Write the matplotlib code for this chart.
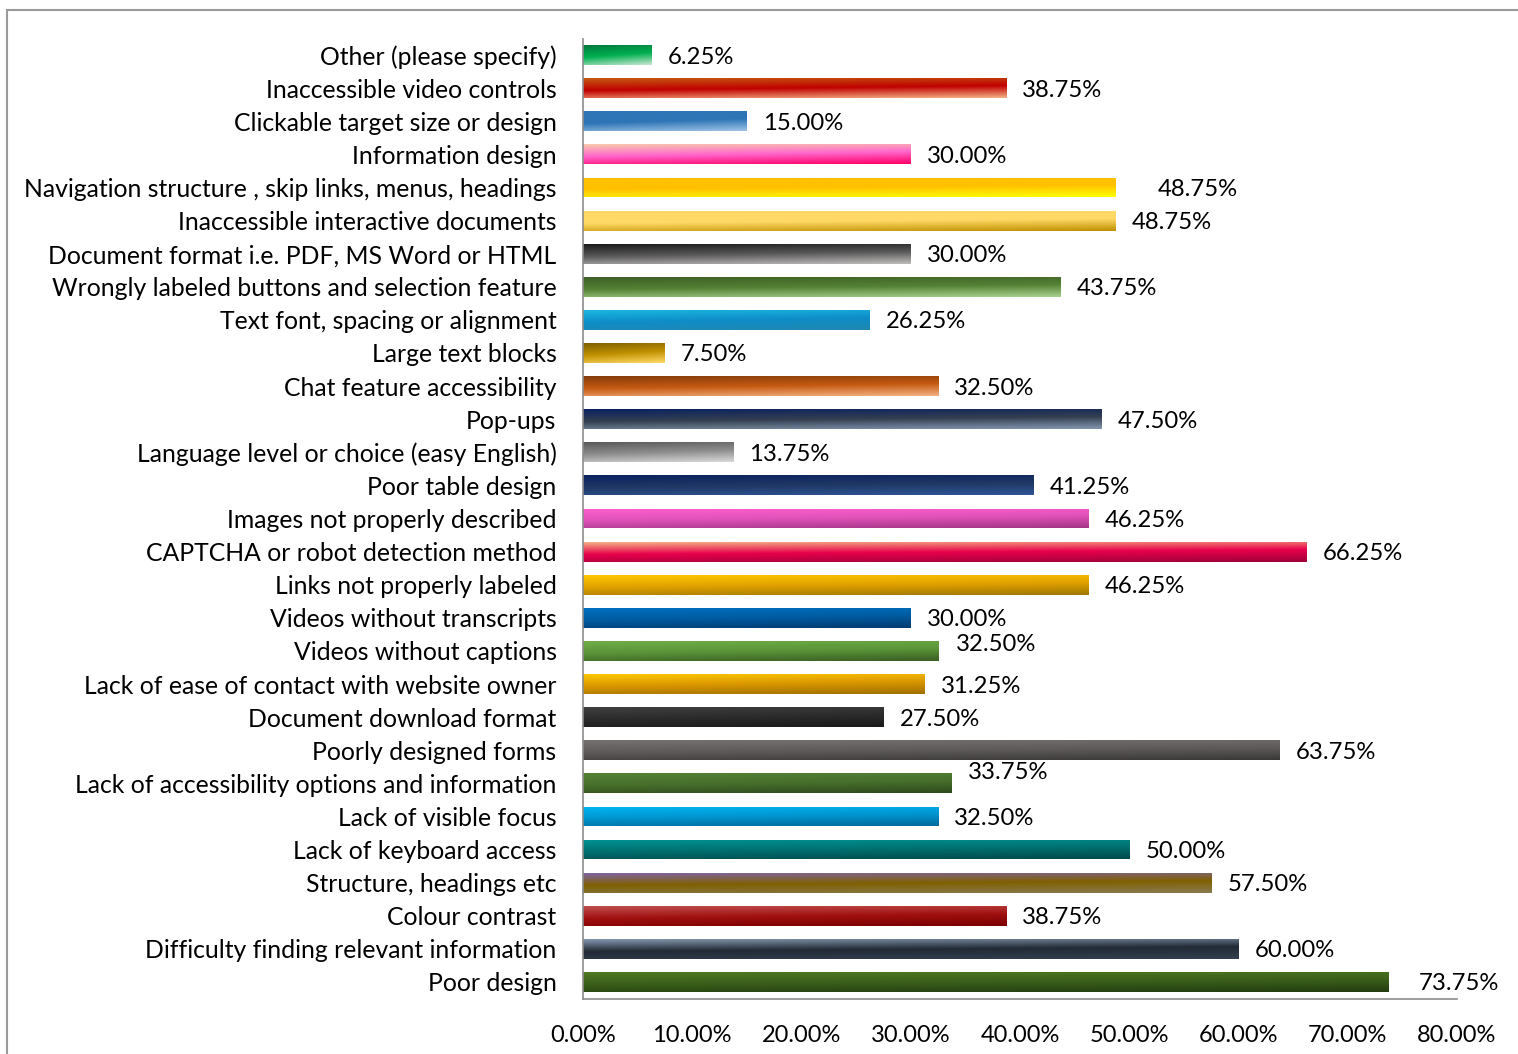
import numpy as np
import matplotlib
matplotlib.use("Agg")
import matplotlib.pyplot as plt
from matplotlib.colors import LinearSegmentedColormap
from matplotlib.patches import Rectangle
from matplotlib.ticker import MultipleLocator, FuncFormatter

plt.rcParams['font.family'] = ['Lato', 'DejaVu Sans']

# Accessibility issues reported, top to bottom as listed
categories = [
    "Other (please specify)",
    "Inaccessible video controls",
    "Clickable target size or design",
    "Information design",
    "Navigation structure , skip links, menus, headings",
    "Inaccessible interactive documents",
    "Document format i.e. PDF, MS Word or HTML",
    "Wrongly labeled buttons and selection feature",
    "Text font, spacing or alignment",
    "Large text blocks",
    "Chat feature accessibility",
    "Pop-ups",
    "Language level or choice (easy English)",
    "Poor table design",
    "Images not properly described",
    "CAPTCHA or robot detection method",
    "Links not properly labeled",
    "Videos without transcripts",
    "Videos without captions",
    "Lack of ease of contact with website owner",
    "Document download format",
    "Poorly designed forms",
    "Lack of accessibility options and information",
    "Lack of visible focus",
    "Lack of keyboard access",
    "Structure, headings etc",
    "Colour contrast",
    "Difficulty finding relevant information",
    "Poor design",
]
values = [6.25, 38.75, 15.00, 30.00, 48.75, 48.75, 30.00, 43.75, 26.25, 7.50,
          32.50, 47.50, 13.75, 41.25, 46.25, 66.25, 46.25, 30.00, 32.50, 31.25,
          27.50, 63.75, 33.75, 32.50, 50.00, 57.50, 38.75, 60.00, 73.75]

# three-stop gradient per bar (top-left -> middle -> bottom-right)
bar_colors = [
    ("#007a3d", "#00b050", "#c9e6d3"),
    ("#c55a11", "#c00000", "#f4b183"),
    ("#2e75b6", "#2e75b6", "#9dc3e6"),
    ("#f8cbad", "#ff66cc", "#ff0066"),
    ("#ffc000", "#ffc000", "#ffff00"),
    ("#ffd966", "#ffd966", "#bf9000"),
    ("#1a1a1a", "#595959", "#bfbbbb"),
    ("#3e5f25", "#548235", "#a9d18e"),
    ("#1ab7e0", "#0e8dc8", "#2088b0"),
    ("#7f6000", "#bf9000", "#ffd966"),
    ("#843c0c", "#c55a11", "#f4b183"),
    ("#0b2260", "#333f50", "#8497b0"),
    ("#595959", "#8c8c8c", "#d9d9d9"),
    ("#0b2260", "#1f3864", "#2f5597"),
    ("#ff5fd0", "#e052b8", "#a23586"),
    ("#f4b183", "#e8004c", "#a0003a"),
    ("#ffc800", "#e0a000", "#a07800"),
    ("#0070c0", "#005ba0", "#003a70"),
    ("#70ad47", "#5a9438", "#3a5e24"),
    ("#ffc800", "#d99600", "#a07000"),
    ("#404040", "#2b2b2b", "#1a1a1a"),
    ("#767171", "#5e5a5a", "#3b3838"),
    ("#548235", "#476f2c", "#2f4a1c"),
    ("#00b8f5", "#0095d0", "#006a9a"),
    ("#009494", "#007070", "#004a4a"),
    ("#8064a2", "#7f6000", "#8a7a50"),
    ("#c0504d", "#a01010", "#7a0000"),
    ("#8497b0", "#222a35", "#333f50"),
    ("#4e7a22", "#3a5e1a", "#233d10"),
]

# a few value labels sit slightly off their default spot (pixels)
label_nudge = {4: (26, 0), 18: (2, 8), 22: (0, 13), 28: (14, 0)}

fig = plt.figure(figsize=(15.18, 10.54), dpi=100)
ax = fig.add_axes([583 / 1518, 1 - 998.5 / 1054, 874 / 1518, 960 / 1054])

y = np.arange(len(categories))
bars = ax.barh(y, values, height=0.6, color='none', edgecolor='none', zorder=2)

# fill each bar with its gradient, mostly vertical with a slight diagonal lean
gy, gx = np.mgrid[0:1:60j, 0:1:300j]
grad = 0.8 * gy + 0.2 * gx
for bar, cols in zip(bars, bar_colors):
    x0, y0 = bar.get_x(), bar.get_y()
    w, h = bar.get_width(), bar.get_height()
    cmap = LinearSegmentedColormap.from_list('bar', cols)
    im = ax.imshow(grad, cmap=cmap, extent=(x0, x0 + w, y0 + h, y0),
                   aspect='auto', interpolation='bilinear', zorder=2)
    im.set_clip_path(bar)

for i, v in enumerate(values):
    dx, dy = label_nudge.get(i, (0, 0))
    ax.annotate(f"{v:.2f}%", xy=(v, i), xytext=(16 + dx, dy - 2),
                textcoords='offset pixels', va='center', ha='left',
                fontsize=17.2, color='black')

ax.set_xlim(0, 80)
ax.set_ylim(len(categories) - 0.5, -0.5)
ax.xaxis.set_major_locator(MultipleLocator(10))
ax.xaxis.set_major_formatter(FuncFormatter(lambda x, _: f"{x:.2f}%"))
ax.set_yticks(y)
ax.set_yticklabels(categories)
ax.tick_params(axis='x', length=0, pad=19, labelsize=17)
ax.tick_params(axis='y', length=0, pad=19, labelsize=17.8)

for side in ('top', 'right'):
    ax.spines[side].set_visible(False)
for side in ('left', 'bottom'):
    ax.spines[side].set_color('#8c8c8c')
    ax.spines[side].set_linewidth(1.2)

# outer chart frame (runs off the right and bottom edges)
fig.add_artist(Rectangle((6.5 / 1518, -0.05), 1.1, 1.05 - 9.5 / 1054,
                         transform=fig.transFigure, fill=False,
                         edgecolor='#9a9a9a', linewidth=1.5))

fig.savefig("out.png", dpi=100)
